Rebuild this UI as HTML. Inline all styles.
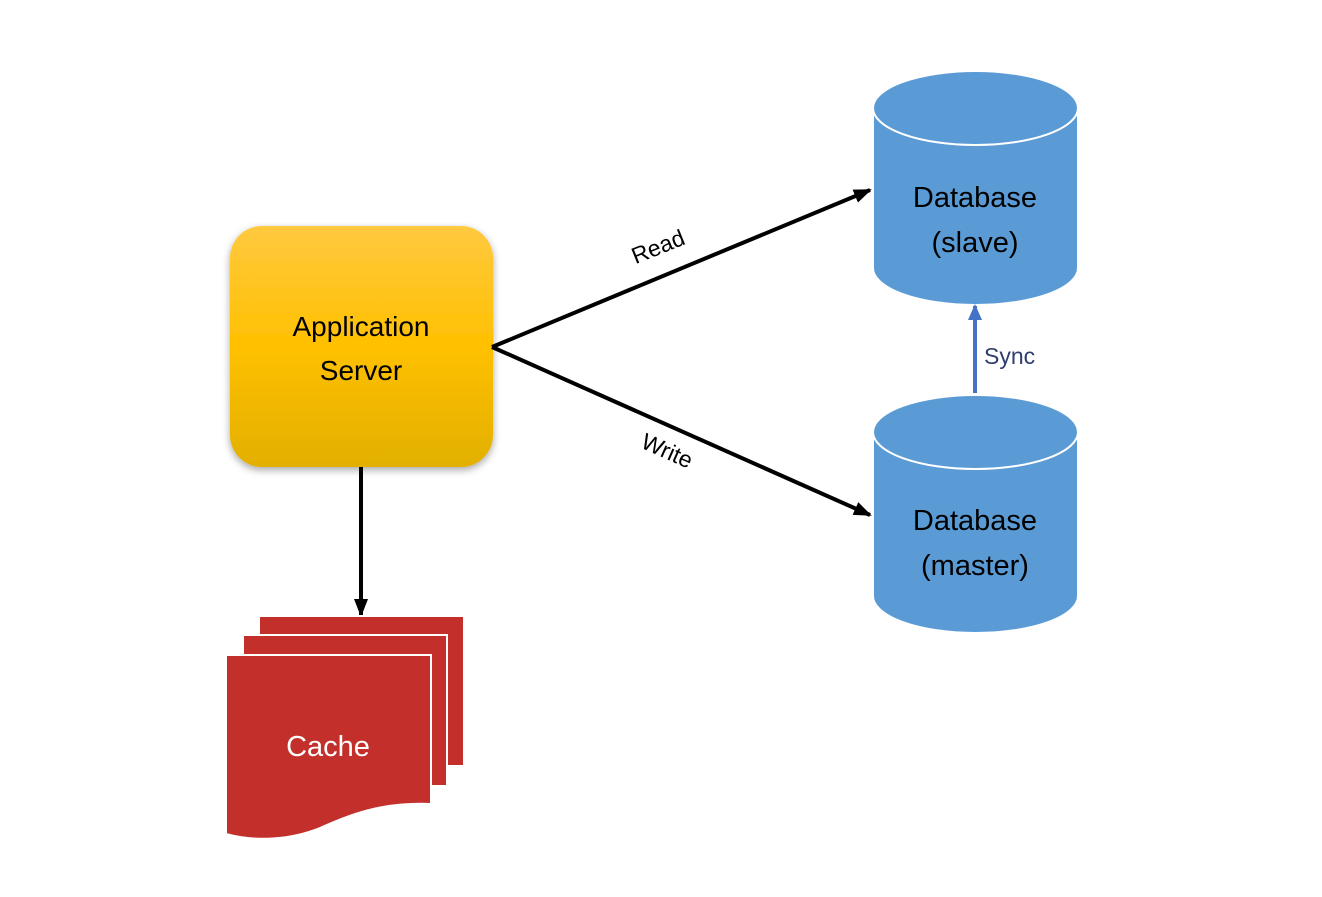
<!DOCTYPE html>
<html><head><style>body{margin:0;background:#fff}</style></head><body>
<svg width="1322" height="892" viewBox="0 0 1322 892" xmlns="http://www.w3.org/2000/svg" font-family="Liberation Sans, sans-serif">
<defs>
<linearGradient id="g" x1="0" y1="0" x2="0" y2="1">
<stop offset="0" stop-color="#ffc940"/><stop offset="0.5" stop-color="#ffc000"/><stop offset="1" stop-color="#e2b000"/></linearGradient>
<filter id="s" x="-20%" y="-20%" width="140%" height="140%"><feDropShadow dx="0" dy="3" stdDeviation="4" flood-opacity="0.35"/></filter>
<marker id="a" markerWidth="18" markerHeight="16" refX="16" refY="8" orient="auto" markerUnits="userSpaceOnUse"><path d="M0,1 L18,8 L0,15z" fill="#000"/></marker>
<marker id="b" markerWidth="16" markerHeight="16" refX="14" refY="7" orient="auto" markerUnits="userSpaceOnUse"><path d="M0,0 L16,7 L0,14z" fill="#4472c4"/></marker>
</defs>
<rect x="230" y="226" width="263" height="241" rx="32" fill="url(#g)" filter="url(#s)"/>
<text x="361" y="336" font-size="28" text-anchor="middle" fill="#000">Application</text>
<text x="361" y="380" font-size="28" text-anchor="middle" fill="#000">Server</text>
<line x1="492" y1="347" x2="870" y2="190" stroke="#000" stroke-width="4" marker-end="url(#a)"/>
<line x1="492" y1="347" x2="870" y2="515" stroke="#000" stroke-width="4" marker-end="url(#a)"/>
<line x1="361" y1="467" x2="361" y2="615" stroke="#000" stroke-width="4" marker-end="url(#a)"/>
<text x="661" y="254" font-size="23" text-anchor="middle" transform="rotate(-22 661 254)">Read</text>
<text x="664" y="458" font-size="23" text-anchor="middle" transform="rotate(24 664 458)">Write</text>
<path d="M873,108 L873,268 A102.5,37 0 0 0 1078,268 L1078,108 Z" fill="#5b9bd5" stroke="#fff" stroke-width="2"/>
<ellipse cx="975.5" cy="108" rx="102.5" ry="37" fill="#5b9bd5" stroke="#fff" stroke-width="2"/>
<text x="975" y="207" font-size="29" text-anchor="middle">Database</text>
<text x="975" y="252" font-size="29" text-anchor="middle">(slave)</text>
<path d="M873,432 L873,596 A102.5,37 0 0 0 1078,596 L1078,432 Z" fill="#5b9bd5" stroke="#fff" stroke-width="2"/>
<ellipse cx="975.5" cy="432" rx="102.5" ry="37" fill="#5b9bd5" stroke="#fff" stroke-width="2"/>
<text x="975" y="530" font-size="29" text-anchor="middle">Database</text>
<text x="975" y="575" font-size="29" text-anchor="middle">(master)</text>
<line x1="975" y1="393" x2="975" y2="306" stroke="#4472c4" stroke-width="4" marker-end="url(#b)"/>
<text x="984" y="364" font-size="23" fill="#2f3e6e">Sync</text>
<rect x="259" y="616" width="205" height="150" fill="#c32f2a" stroke="#fff" stroke-width="2"/>
<rect x="243" y="635" width="204" height="151" fill="#c32f2a" stroke="#fff" stroke-width="2"/>
<path d="M226,655 L431,655 L431,804 C380,802 350,815 320,828 C290,840 255,842 226,834 Z" fill="#c32f2a" stroke="#fff" stroke-width="2"/>
<text x="328" y="756" font-size="29" text-anchor="middle" fill="#fff">Cache</text>
</svg>
</body></html>
